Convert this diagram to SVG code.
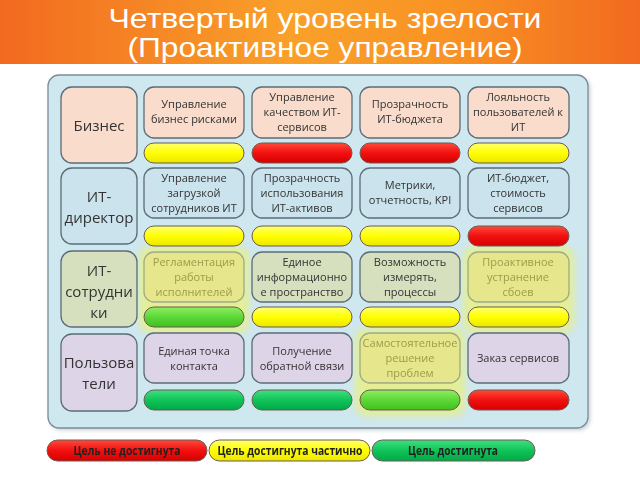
<svg xmlns="http://www.w3.org/2000/svg" width="640" height="480" viewBox="0 0 640 480">
<defs>
<linearGradient id="orange" x1="0" y1="0" x2="1" y2="0">
<stop offset="0" stop-color="#f26a1f"/><stop offset="0.45" stop-color="#f9a02a"/><stop offset="0.7" stop-color="#f89324"/><stop offset="1" stop-color="#f26a1f"/>
</linearGradient>
<linearGradient id="gRed" x1="0" y1="0" x2="0" y2="1"><stop offset="0" stop-color="#ff4a3a"/><stop offset="0.5" stop-color="#f21010"/><stop offset="1" stop-color="#d60000"/></linearGradient>
<linearGradient id="gYel" x1="0" y1="0" x2="0" y2="1"><stop offset="0" stop-color="#ffff70"/><stop offset="0.5" stop-color="#ffff00"/><stop offset="1" stop-color="#ece600"/></linearGradient>
<linearGradient id="gGrn" x1="0" y1="0" x2="0" y2="1"><stop offset="0" stop-color="#3fe080"/><stop offset="0.5" stop-color="#10c458"/><stop offset="1" stop-color="#00a848"/></linearGradient>
<linearGradient id="gLGr" x1="0" y1="0" x2="0" y2="1"><stop offset="0" stop-color="#90ee60"/><stop offset="0.5" stop-color="#5cd838"/><stop offset="1" stop-color="#40c020"/></linearGradient>
<filter id="blur" x="-20%" y="-20%" width="140%" height="140%"><feGaussianBlur stdDeviation="3.5"/></filter>
<filter id="shadow" x="-5%" y="-5%" width="110%" height="110%"><feGaussianBlur stdDeviation="2"/></filter>
<style>
.title{font-family:"Liberation Sans",Arial,sans-serif;font-size:28px;fill:#fff;text-anchor:middle}
.lab{font-family:"Open Sans","Noto Sans",sans-serif;font-size:15px;fill:#333;text-anchor:middle}
.gt{font-family:"Open Sans","Noto Sans",sans-serif;font-size:11px;fill:#333;text-anchor:middle}
.fade{fill:#9c9c4c}
.lg{font-family:"Open Sans","Noto Sans",sans-serif;font-size:12px;font-weight:bold;fill:#222;text-anchor:middle}
.box{stroke:#5b6c78;stroke-width:1.3}
.bar{stroke:#6b5a50;stroke-width:1}
.r1{fill:#f9dccb}.r2{fill:#cae3ec}.r3{fill:#d6e0be}.r4{fill:#ddd5e7}.hl{fill:#e6e68c}
.glow{fill:#eaf07a;opacity:0.75}
</style>
</defs>
<rect x="0" y="0" width="640" height="64" fill="url(#orange)"/>
<rect x="0" y="64" width="640" height="416" fill="#ffffff"/>
<g id="title">
<text class="title" x="325" y="28" textLength="433" lengthAdjust="spacingAndGlyphs">Четвертый уровень зрелости</text>
<text class="title" x="325" y="57" textLength="395" lengthAdjust="spacingAndGlyphs">(Проактивное управление)</text>
</g>
<rect x="50" y="77" width="540" height="353" rx="11" fill="#8a9aa4" opacity="0.5" filter="url(#shadow)"/>
<rect id="panel" x="48" y="75" width="540" height="353" rx="11" fill="#cfe7ef" stroke="#7c8d97" stroke-width="1.3"/>
<g id="glows" filter="url(#blur)">
<rect class="glow" x="139" y="246" width="110" height="87" rx="12"/>
<rect class="glow" x="463" y="246" width="111" height="87" rx="12"/>
<rect class="glow" x="355" y="328" width="110" height="88" rx="12"/>
</g>
<g id="row-labels">
<g id="lab-biz"><rect class="box r1" x="61" y="87" width="76" height="76" rx="11"/><text class="lab" x="99" y="131">Бизнес</text></g>
<g id="lab-dir"><rect class="box r2" x="61" y="168" width="76" height="76" rx="11"/><text class="lab" x="99" y="202">ИТ-</text><text class="lab" x="99" y="223">директор</text></g>
<g id="lab-emp"><rect class="box r3" x="61" y="251" width="76" height="76" rx="11"/><text class="lab" x="99" y="276">ИТ-</text><text class="lab" x="99" y="297">сотрудни</text><text class="lab" x="99" y="318">ки</text></g>
<g id="lab-usr"><rect class="box r4" x="61" y="334" width="76" height="77" rx="11"/><text class="lab" x="99" y="368">Пользова</text><text class="lab" x="99" y="389">тели</text></g>
</g>
<g id="row1">
<g id="g11"><rect class="box r1" x="144" y="87" width="100" height="51" rx="10"/><text class="gt" x="194" y="108">Управление</text><text class="gt" x="194" y="123">бизнес рисками</text><rect class="bar" x="144" y="143" width="100" height="20" rx="10" fill="url(#gYel)"/></g>
<g id="g12"><rect class="box r1" x="252" y="87" width="100" height="51" rx="10"/><text class="gt" x="302" y="101">Управление</text><text class="gt" x="302" y="116">качеством ИТ-</text><text class="gt" x="302" y="131">сервисов</text><rect class="bar" x="252" y="143" width="100" height="20" rx="10" fill="url(#gRed)"/></g>
<g id="g13"><rect class="box r1" x="360" y="87" width="100" height="51" rx="10"/><text class="gt" x="410" y="108">Прозрачность</text><text class="gt" x="410" y="123">ИТ-бюджета</text><rect class="bar" x="360" y="143" width="100" height="20" rx="10" fill="url(#gRed)"/></g>
<g id="g14"><rect class="box r1" x="468" y="87" width="101" height="51" rx="10"/><text class="gt" x="518" y="101">Лояльность</text><text class="gt" x="518" y="116">пользователей к</text><text class="gt" x="518" y="131">ИТ</text><rect class="bar" x="468" y="143" width="101" height="20" rx="10" fill="url(#gYel)"/></g>
</g>
<g id="row2">
<g id="g21"><rect class="box r2" x="144" y="168" width="100" height="50" rx="10"/><text class="gt" x="194" y="182">Управление</text><text class="gt" x="194" y="197">загрузкой</text><text class="gt" x="194" y="212">сотрудников ИТ</text><rect class="bar" x="144" y="226" width="100" height="20" rx="10" fill="url(#gYel)"/></g>
<g id="g22"><rect class="box r2" x="252" y="168" width="100" height="50" rx="10"/><text class="gt" x="302" y="182">Прозрачность</text><text class="gt" x="302" y="197">использования</text><text class="gt" x="302" y="212">ИТ-активов</text><rect class="bar" x="252" y="226" width="100" height="20" rx="10" fill="url(#gYel)"/></g>
<g id="g23"><rect class="box r2" x="360" y="168" width="100" height="50" rx="10"/><text class="gt" x="410" y="189">Метрики,</text><text class="gt" x="410" y="204">отчетность, KPI</text><rect class="bar" x="360" y="226" width="100" height="20" rx="10" fill="url(#gYel)"/></g>
<g id="g24"><rect class="box r2" x="468" y="168" width="101" height="50" rx="10"/><text class="gt" x="518" y="182">ИТ-бюджет,</text><text class="gt" x="518" y="197">стоимость</text><text class="gt" x="518" y="212">сервисов</text><rect class="bar" x="468" y="226" width="101" height="20" rx="10" fill="url(#gRed)"/></g>
</g>
<g id="row3">
<g id="g31"><rect class="box hl" x="144" y="252" width="100" height="50" rx="10" stroke-opacity="0.5"/><text class="gt fade" x="194" y="266">Регламентация</text><text class="gt fade" x="194" y="281">работы</text><text class="gt fade" x="194" y="296">исполнителей</text><rect class="bar" x="144" y="307" width="100" height="20" rx="10" fill="url(#gLGr)"/></g>
<g id="g32"><rect class="box r3" x="252" y="252" width="100" height="50" rx="10"/><text class="gt" x="302" y="266">Единое</text><text class="gt" x="302" y="281">информационно</text><text class="gt" x="302" y="296">е пространство</text><rect class="bar" x="252" y="307" width="100" height="20" rx="10" fill="url(#gYel)"/></g>
<g id="g33"><rect class="box r3" x="360" y="252" width="100" height="50" rx="10"/><text class="gt" x="410" y="266">Возможность</text><text class="gt" x="410" y="281">измерять,</text><text class="gt" x="410" y="296">процессы</text><rect class="bar" x="360" y="307" width="100" height="20" rx="10" fill="url(#gYel)"/></g>
<g id="g34"><rect class="box hl" x="468" y="252" width="101" height="50" rx="10" stroke-opacity="0.5"/><text class="gt fade" x="518" y="266">Проактивное</text><text class="gt fade" x="518" y="281">устранение</text><text class="gt fade" x="518" y="296">сбоев</text><rect class="bar" x="468" y="307" width="101" height="20" rx="10" fill="url(#gYel)"/></g>
</g>
<g id="row4">
<g id="g41"><rect class="box r4" x="144" y="333" width="100" height="50" rx="10"/><text class="gt" x="194" y="355">Единая точка</text><text class="gt" x="194" y="370">контакта</text><rect class="bar" x="144" y="390" width="100" height="20" rx="10" fill="url(#gGrn)"/></g>
<g id="g42"><rect class="box r4" x="252" y="333" width="100" height="50" rx="10"/><text class="gt" x="302" y="355">Получение</text><text class="gt" x="302" y="370">обратной связи</text><rect class="bar" x="252" y="390" width="100" height="20" rx="10" fill="url(#gGrn)"/></g>
<g id="g43"><rect class="box hl" x="360" y="333" width="100" height="50" rx="10" stroke-opacity="0.5"/><text class="gt fade" x="410" y="347">Самостоятельное</text><text class="gt fade" x="410" y="362">решение</text><text class="gt fade" x="410" y="377">проблем</text><rect class="bar" x="360" y="390" width="100" height="20" rx="10" fill="url(#gLGr)"/></g>
<g id="g44"><rect class="box r4" x="468" y="333" width="101" height="50" rx="10"/><text class="gt" x="518" y="362">Заказ сервисов</text><rect class="bar" x="468" y="390" width="101" height="20" rx="10" fill="url(#gRed)"/></g>
</g>
<g id="legend">
<g id="leg-red"><rect class="bar" x="47" y="440" width="160" height="21" rx="10.5" fill="url(#gRed)"/><text class="lg" x="127" y="455" fill="#3a0000" textLength="107" lengthAdjust="spacingAndGlyphs">Цель не достигнута</text></g>
<g id="leg-yel"><rect class="bar" x="209" y="440" width="161" height="21" rx="10.5" fill="url(#gYel)"/><text class="lg" x="290" y="455" textLength="145" lengthAdjust="spacingAndGlyphs">Цель достигнута частично</text></g>
<g id="leg-grn"><rect class="bar" x="372" y="440" width="163" height="21" rx="10.5" fill="url(#gGrn)"/><text class="lg" x="453" y="455" textLength="90" lengthAdjust="spacingAndGlyphs">Цель достигнута</text></g>
</g>
</svg>
